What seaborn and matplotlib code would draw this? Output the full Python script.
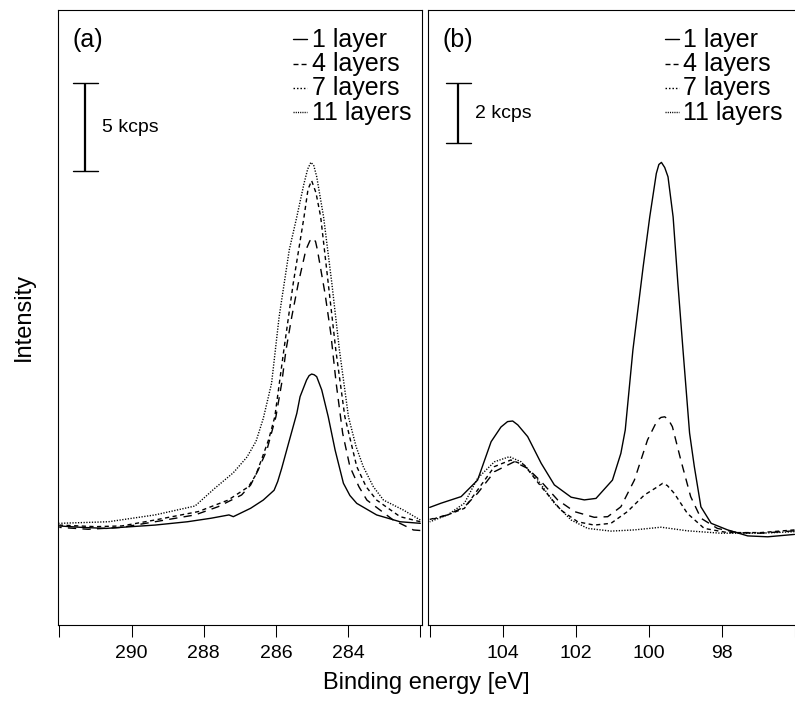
import matplotlib
matplotlib.use("Agg")
import matplotlib.pyplot as plt
import numpy as np
import pandas as pd
import seaborn as sns
from matplotlib.lines import Line2D
from matplotlib.transforms import blended_transform_factory

# ---------------- C 1s region (intensity in kcps) ----------------
c1s_e_1 = [292.0, 291.4, 290.7, 290.0, 289.35, 288.45, 287.8, 287.3, 287.18, 286.7, 286.35,
           286.05, 285.95, 285.84, 285.65, 285.42, 285.33, 285.15, 285.08, 285.01, 284.94,
           284.87, 284.73, 284.55, 284.36, 284.13, 283.95, 283.76, 283.21, 282.56, 282.0]
c1s_i_1 = [5.66, 5.58, 5.52, 5.62, 5.71, 5.90, 6.10, 6.29, 6.19, 6.67, 7.14,
           7.70, 8.20, 8.95, 10.38, 12.10, 13.05, 14.00, 14.25, 14.34, 14.30,
           14.19, 13.43, 11.90, 10.00, 8.10, 7.40, 6.95, 6.29, 5.90, 5.81]

c1s_e_4 = [292.0, 291.2, 290.27, 289.35, 288.24, 287.6, 286.95, 286.7, 286.49, 286.25, 286.0,
           285.84, 285.72, 285.56, 285.38, 285.17, 285.06, 284.96, 284.9, 284.85, 284.64,
           284.48, 284.33, 284.15, 283.95, 283.7, 283.48, 282.75, 282.19, 282.0]
c1s_i_4 = [5.58, 5.47, 5.58, 5.90, 6.29, 6.76, 7.43, 8.00, 8.86, 10.00, 11.90,
           13.81, 15.71, 17.62, 19.52, 21.43, 21.95, 22.10, 21.90, 21.43, 18.95,
           16.67, 13.81, 10.95, 9.05, 7.90, 7.14, 6.00, 5.43, 5.40]

c1s_e_7 = [292.0, 291.0, 290.27, 289.35, 288.15, 287.32, 286.76, 286.55, 286.39, 286.2,
           286.03, 285.78, 285.52, 285.22, 285.11, 285.01, 284.89, 284.76, 284.55, 284.34,
           284.09, 283.76, 283.5, 283.21, 282.56, 282.0]
c1s_i_7 = [5.71, 5.62, 5.66, 6.00, 6.48, 7.14, 7.90, 8.60, 9.50, 10.60,
           11.90, 15.71, 19.52, 23.33, 24.90, 25.39, 24.70, 23.33, 19.52, 15.71,
           11.90, 9.05, 7.90, 7.14, 6.19, 5.90]

c1s_e_11 = [292.0, 290.64, 289.35, 288.24, 287.7, 287.18, 286.8, 286.55, 286.35, 286.12,
            285.91, 285.63, 285.42, 285.22, 285.12, 285.03, 284.95, 284.87, 284.68, 284.45,
            284.24, 283.99, 283.78, 283.58, 283.3, 283.02, 282.47, 282.0]
c1s_i_11 = [5.81, 5.90, 6.29, 6.80, 7.80, 8.70, 9.60, 10.50, 11.80, 13.81,
            17.62, 21.43, 23.33, 25.24, 26.05, 26.44, 26.25, 25.62, 23.33, 19.52,
            15.71, 11.90, 10.20, 9.05, 7.90, 7.14, 6.57, 6.00]

# ---------------- Si 2p region (intensity in kcps) ----------------
si_e_1 = [106.0, 105.69, 105.14, 104.69, 104.32, 104.05, 103.87, 103.73, 103.59, 103.32,
          102.95, 102.59, 102.13, 101.77, 101.45, 101.0, 100.77, 100.65, 100.44, 100.16,
          99.98, 99.80, 99.73, 99.66, 99.57, 99.48, 99.34, 99.21, 99.07, 98.89,
          98.76, 98.58, 98.30, 97.85, 97.30, 96.75, 96.02]
si_i_1 = [3.92, 4.06, 4.28, 4.83, 6.11, 6.60, 6.78, 6.80, 6.67, 6.28,
          5.39, 4.67, 4.26, 4.17, 4.22, 4.83, 5.72, 6.50, 9.17, 11.94,
          13.60, 15.05, 15.35, 15.42, 15.25, 14.94, 13.60, 11.39, 9.17, 6.40,
          5.28, 3.94, 3.39, 3.17, 2.97, 2.94, 3.02]

si_e_4 = [106.0, 105.51, 105.05, 104.69, 104.23, 103.69, 103.32, 102.95, 102.5, 102.04,
          101.5, 101.13, 100.77, 100.40, 100.04, 99.77, 99.67, 99.57, 99.47, 99.36,
          99.13, 98.86, 98.58, 98.13, 97.58, 96.94, 96.02]
si_i_4 = [3.52, 3.67, 3.94, 4.39, 5.11, 5.44, 5.22, 4.78, 4.17, 3.78,
          3.59, 3.61, 3.94, 4.83, 6.17, 6.83, 6.92, 6.94, 6.85, 6.61,
          5.50, 4.28, 3.56, 3.22, 3.08, 3.06, 3.14]

si_e_7 = [106.0, 105.51, 105.05, 104.69, 104.23, 103.78, 103.41, 102.95, 102.41, 101.95,
          101.5, 101.04, 100.59, 100.13, 99.75, 99.63, 99.5, 99.31, 98.95, 98.49,
          97.85, 96.94, 96.02]
si_i_7 = [3.50, 3.67, 3.89, 4.50, 5.28, 5.50, 5.33, 4.61, 3.83, 3.44,
          3.33, 3.39, 3.78, 4.33, 4.62, 4.72, 4.65, 4.39, 3.72, 3.22,
          3.08, 3.08, 3.17]

si_e_11 = [106.0, 105.51, 105.05, 104.69, 104.23, 103.82, 103.5, 103.04, 102.59, 102.13,
           101.68, 101.04, 100.4, 99.67, 98.95, 98.04, 96.94, 96.02]
si_i_11 = [3.44, 3.67, 4.06, 4.89, 5.44, 5.61, 5.44, 4.83, 4.06, 3.50,
           3.22, 3.13, 3.17, 3.26, 3.14, 3.06, 3.06, 3.11]

samples = ["1 layer", "4 layers", "7 layers", "11 layers"]
c1s_ticks = [292, 290, 288, 286, 284, 282]
c1s_ticklabels = ["", "290", "288", "286", "284", ""]
si_ticks = [106, 104, 102, 100, 98, 96]
si_ticklabels = ["", "104", "102", "100", "98", ""]


def long_frame(pairs):
    frames = []
    for name, (e, i) in zip(samples, pairs):
        frames.append(pd.DataFrame({"energy": e, "intensity": i, "sample": name}))
    return pd.concat(frames, ignore_index=True)


c1s = long_frame([(c1s_e_1, c1s_i_1), (c1s_e_4, c1s_i_4),
                  (c1s_e_7, c1s_i_7), (c1s_e_11, c1s_i_11)])
si2p = long_frame([(si_e_1, si_i_1), (si_e_4, si_i_4),
                   (si_e_7, si_i_7), (si_e_11, si_i_11)])

sns.set_style("white")
plt.rcParams["font.family"] = ["Liberation Sans", "DejaVu Sans"]
plt.rcParams["text.color"] = "black"
plt.rcParams["axes.labelcolor"] = "black"
plt.rcParams["xtick.color"] = "black"
plt.rcParams["ytick.color"] = "black"

W, H = 795, 708
fig = plt.figure(figsize=(W / 100, H / 100), dpi=100)


def fx(x):
    return x / W


def fy(y):
    return 1 - y / H


ax_a = fig.add_axes([fx(58.3), 83 / H, 363.4 / W, 615 / H])
ax_b = fig.add_axes([fx(427.7), 83 / H, 368.3 / W, 615 / H])

palette = {s: "black" for s in samples}
plot_dashes = {"1 layer": "", "4 layers": (6, 4.5), "7 layers": (3, 2.5), "11 layers": (0.9, 1.1)}
legend_dashes = {"1 layer": None, "4 layers": (3.6, 2.2), "7 layers": (1.1, 1.4), "11 layers": (0.8, 0.8)}

for ax, df in ((ax_a, c1s), (ax_b, si2p)):
    sns.lineplot(data=df, x="energy", y="intensity", hue="sample", style="sample",
                 palette=palette, dashes=plot_dashes, hue_order=samples,
                 style_order=samples, estimator=None, sort=True, lw=1.0,
                 legend=False, ax=ax)

ax_a.set_xlim(292.028, 281.961)
ax_a.set_ylim(0, 615 / 17.5)
ax_b.set_xlim(106.055, 95.978)
ax_b.set_ylim(0, 615 / 30)

for ax, ticks, labels in ((ax_a, c1s_ticks, c1s_ticklabels), (ax_b, si_ticks, si_ticklabels)):
    ax.set_xticks(ticks)
    ax.set_xticklabels(labels, fontsize=14, color="black")
    ax.set_yticks([])
    ax.set_xlabel("")
    ax.set_ylabel("")
    ax.tick_params(axis="x", direction="out", length=8.6, width=0.75, pad=5.5,
                   bottom=True, colors="black")
    for sp in ax.spines.values():
        sp.set_visible(True)
        sp.set_color("black")
        sp.set_linewidth(0.8)

# Scale bars in data units
for ax, length, x_bar, x_cap0, x_cap1, top, x_txt, label in (
        (ax_a, 5, 0.0735, 0.0396, 0.1084, 30.95, 0.1203, "5 kcps"),
        (ax_b, 2, 0.0831, 0.0497, 0.1168, 18.06, 0.1284, "2 kcps")):
    tr = blended_transform_factory(ax.transAxes, ax.transData)
    bottom = top - length
    ax.plot([x_bar, x_bar], [bottom, top], color="black", lw=1.6, transform=tr,
            solid_capstyle="butt", clip_on=False)
    for yv in (bottom, top):
        ax.plot([x_cap0, x_cap1], [yv, yv], color="black", lw=1.0, transform=tr,
                clip_on=False)
    ax.text(x_txt, (top + bottom) / 2, label, transform=tr, fontsize=14,
            ha="left", va="center", color="black")

# Panel labels and line-style keys
for x_lab, lab, x_seg0, x_seg1, x_txt in ((72, "(a)", 293, 307, 312),
                                         (443, "(b)", 665, 679, 683)):
    fig.text(fx(x_lab), fy(46.7), lab, fontsize=18, ha="left", va="baseline", color="black")
    for k, name in enumerate(samples):
        base = 46.7 + 24.35 * k
        fig.text(fx(x_txt), fy(base), name, fontsize=18, ha="left", va="baseline",
                 color="black")
        ln = Line2D([fx(x_seg0), fx(x_seg1)], [fy(base - 7.5)] * 2,
                    transform=fig.transFigure, color="black", lw=1.0)
        if legend_dashes[name] is not None:
            ln.set_dashes(legend_dashes[name])
        fig.add_artist(ln)

fig.text(fx(24), fy(317), "Intensity", rotation=90, fontsize=17, ha="center",
         va="center", color="black")
fig.text(fx(426), fy(683), "Binding energy [eV]", fontsize=17, ha="center",
         va="center", color="black")

fig.savefig("out.png", dpi=100, facecolor="white")
